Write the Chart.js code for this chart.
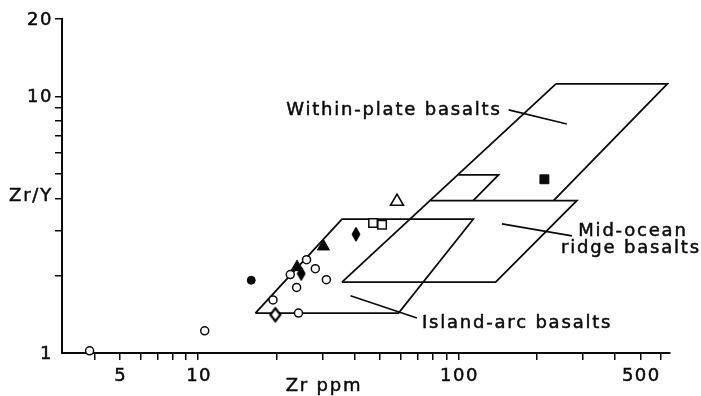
<!DOCTYPE html>
<html><head><meta charset="utf-8">
<style>html,body{margin:0;padding:0;background:#fff;}#wrap{width:701px;height:396px;position:relative;}</style>
<script src="https://cdn.jsdelivr.net/npm/chart.js@4.4.1/dist/chart.umd.min.js"></script>
</head><body><div id="wrap"><canvas id="c"></canvas></div>
<script>
// ---- axes ----
const xRange = [3, 650];
const yRange = [1, 20];
const xTicks = [4,5,6,7,8,9,10,20,30,40,50,60,70,80,90,100,200,300,400,500,600];
const xTickLabels = [5, 10, 100, 500];
const yTicks = [2,3,4,5,6,7,8,9,10,20];
const yTickLabels = [1, 10, 20];
const xTitle = 'Zr ppm';
const yTitle = 'Zr/Y';

// ---- samples [Zr ppm, Zr/Y] ----
const openCircles = [[3.83,1.02],[10.6,1.22],[19.4,1.61],[24.3,1.43],[23.9,1.80],[22.6,2.02],[28.2,2.13],[26.1,2.31],[31.1,1.93]];
const filledCircles = [[16.0,1.92]];
const openTriangles = [[58.1,3.89]];
const filledTriangles = [[24.0,2.16],[30.3,2.60]];
const openSquares = [[47,3.21],[50.9,3.16]];
const filledSquares = [[214,4.75]];
const filledDiamonds = [[40.4,2.90],[24.9,2.04]];
const openDiamonds = [[19.8,1.41]];

// ---- field boundaries [Zr ppm, Zr/Y] ----
const boundaryLong = [[237,11.18],[35.7,1.889]];
const boundaryWpb = [[237,11.18],[635,11.18],[232,3.925]];
const boundaryMorb = [[78,3.925],[285,3.925],[139,1.889],[35.7,1.889]];
const boundaryInner = [[100,4.94],[142.6,4.94],[114,3.925]];
const boundaryIab = [[16.6,1.43],[35.7,3.32],[114,3.32],[58.9,1.43],[16.6,1.43]];
const pointerWpb = [[156,8.85],[261,7.80]];
const pointerMorb = [[147,3.185],[273,2.86]];
const pointerIab = [[38.5,1.671],[69.3,1.368]];

// ---- field labels (text, anchor [Zr ppm, Zr/Y] at left baseline) ----
const fieldLabelText = ['Within-plate basalts','Mid-ocean','ridge basalts','Island-arc basalts'];
const fieldLabelAnchor = [[21.8,8.46],[288.7,2.86],[248,2.455],[72.4,1.254]];

const INK = '#0a0a0a';
const FONT = '"DejaVu Sans", sans-serif';
const toXY = a => a.map(p => ({x:p[0], y:p[1]}));

function diamond(w, h, fill, lw) {
  const pad = Math.ceil(lw);
  const c = document.createElement('canvas');
  c.width = w + 2*pad; c.height = h + 2*pad;
  const g = c.getContext('2d');
  g.beginPath();
  g.moveTo(c.width/2, pad); g.lineTo(c.width-pad, c.height/2);
  g.lineTo(c.width/2, c.height-pad); g.lineTo(pad, c.height/2); g.closePath();
  g.fillStyle = fill; g.fill();
  g.lineWidth = lw; g.strokeStyle = '#000'; g.stroke();
  return c;
}

function pts(data, style, r, fill, lw) {
  return {type:'scatter', data: toXY(data), pointStyle: style, pointRadius: r, pointHoverRadius: r,
    backgroundColor: fill, borderColor: INK, borderWidth: lw, clip: false, order: 0};
}
function line(data, lw) {
  return {type:'line', data: toXY(data), showLine: true, fill: false, tension: 0, pointRadius: 0,
    borderColor: INK, borderWidth: lw, clip: false, order: 1};
}

function inkText(ctx, t, x, y) {
  ctx.fillText(t, x, y);
  ctx.strokeText(t, x, y);
}

const textPlugin = {
  id: 'texts',
  afterDraw(chart) {
    const ctx = chart.ctx, xs = chart.scales.x, ys = chart.scales.y;
    ctx.save();
    ctx.fillStyle = INK;
    ctx.strokeStyle = INK;
    ctx.lineWidth = 0.5;
    ctx.letterSpacing = '1.8px';
    ctx.font = '18px ' + FONT;
    ctx.textBaseline = 'alphabetic';
    ctx.textAlign = 'left';
    fieldLabelText.forEach((t, i) => {
      const a = fieldLabelAnchor[i];
      inkText(ctx, t, xs.getPixelForValue(a[0]), ys.getPixelForValue(a[1]));
    });
    // axis titles
    ctx.textAlign = 'center';
    inkText(ctx, xTitle, 324, 391);
    inkText(ctx, yTitle, 31, 201);
    // tick labels
    ctx.letterSpacing = '1.5px';
    ctx.textBaseline = 'middle';
    ctx.textAlign = 'center';
    xTickLabels.forEach(v => inkText(ctx, String(v), xs.getPixelForValue(v) + 1, 376));
    ctx.textAlign = 'right';
    yTickLabels.forEach(v => inkText(ctx, String(v), xs.left - 9, ys.getPixelForValue(v) + 1));
    ctx.restore();
  }
};

const axisCommon = {
  grid: {drawOnChartArea: false, drawTicks: true, tickLength: 7, color: INK, lineWidth: 1.5},
  border: {display: true, color: INK, width: 2},
  ticks: {display: false, autoSkip: false}
};

new Chart(document.getElementById('c'), {
  type: 'scatter',
  data: {datasets: [
    pts(openCircles, 'circle', 4, '#fff', 1.5),
    pts(filledCircles, 'circle', 4, INK, 1),
    pts(openTriangles, 'triangle', 7.5, '#fff', 1.6),
    pts(filledTriangles, 'triangle', 7, INK, 1),
    pts(openSquares, 'rect', 6, '#fff', 1.5),
    pts(filledSquares, 'rect', 6.3, INK, 1),
    pts(filledDiamonds, diamond(8, 14, '#000', 1), 6, INK, 1),
    pts(openDiamonds, diamond(10, 13, '#fff', 2.2), 6, '#fff', 2),
    line(boundaryLong, 1.8), line(boundaryWpb, 1.8), line(boundaryMorb, 1.8),
    line(boundaryInner, 1.8), line(boundaryIab, 1.8),
    line(pointerWpb, 1.6), line(pointerMorb, 1.6), line(pointerIab, 1.6)
  ]},
  options: {
    responsive: true, maintainAspectRatio: false, animation: false,
    layout: {padding: {top: 19, right: 31, left: 0, bottom: 0}},
    plugins: {legend: {display: false}, tooltip: {enabled: false}},
    scales: {
      x: Object.assign({}, axisCommon, {type: 'logarithmic', position: 'bottom', min: xRange[0], max: xRange[1],
        afterBuildTicks(s) { s.ticks = xTicks.map(v => ({value: v})); },
        afterFit(s) { s.height = 43; }}),
      y: Object.assign({}, axisCommon, {type: 'logarithmic', position: 'left', min: yRange[0], max: yRange[1],
        afterBuildTicks(s) { s.ticks = yTicks.map(v => ({value: v})); },
        afterFit(s) { s.width = 62; }})
    }
  },
  plugins: [textPlugin]
});
</script></body></html>
